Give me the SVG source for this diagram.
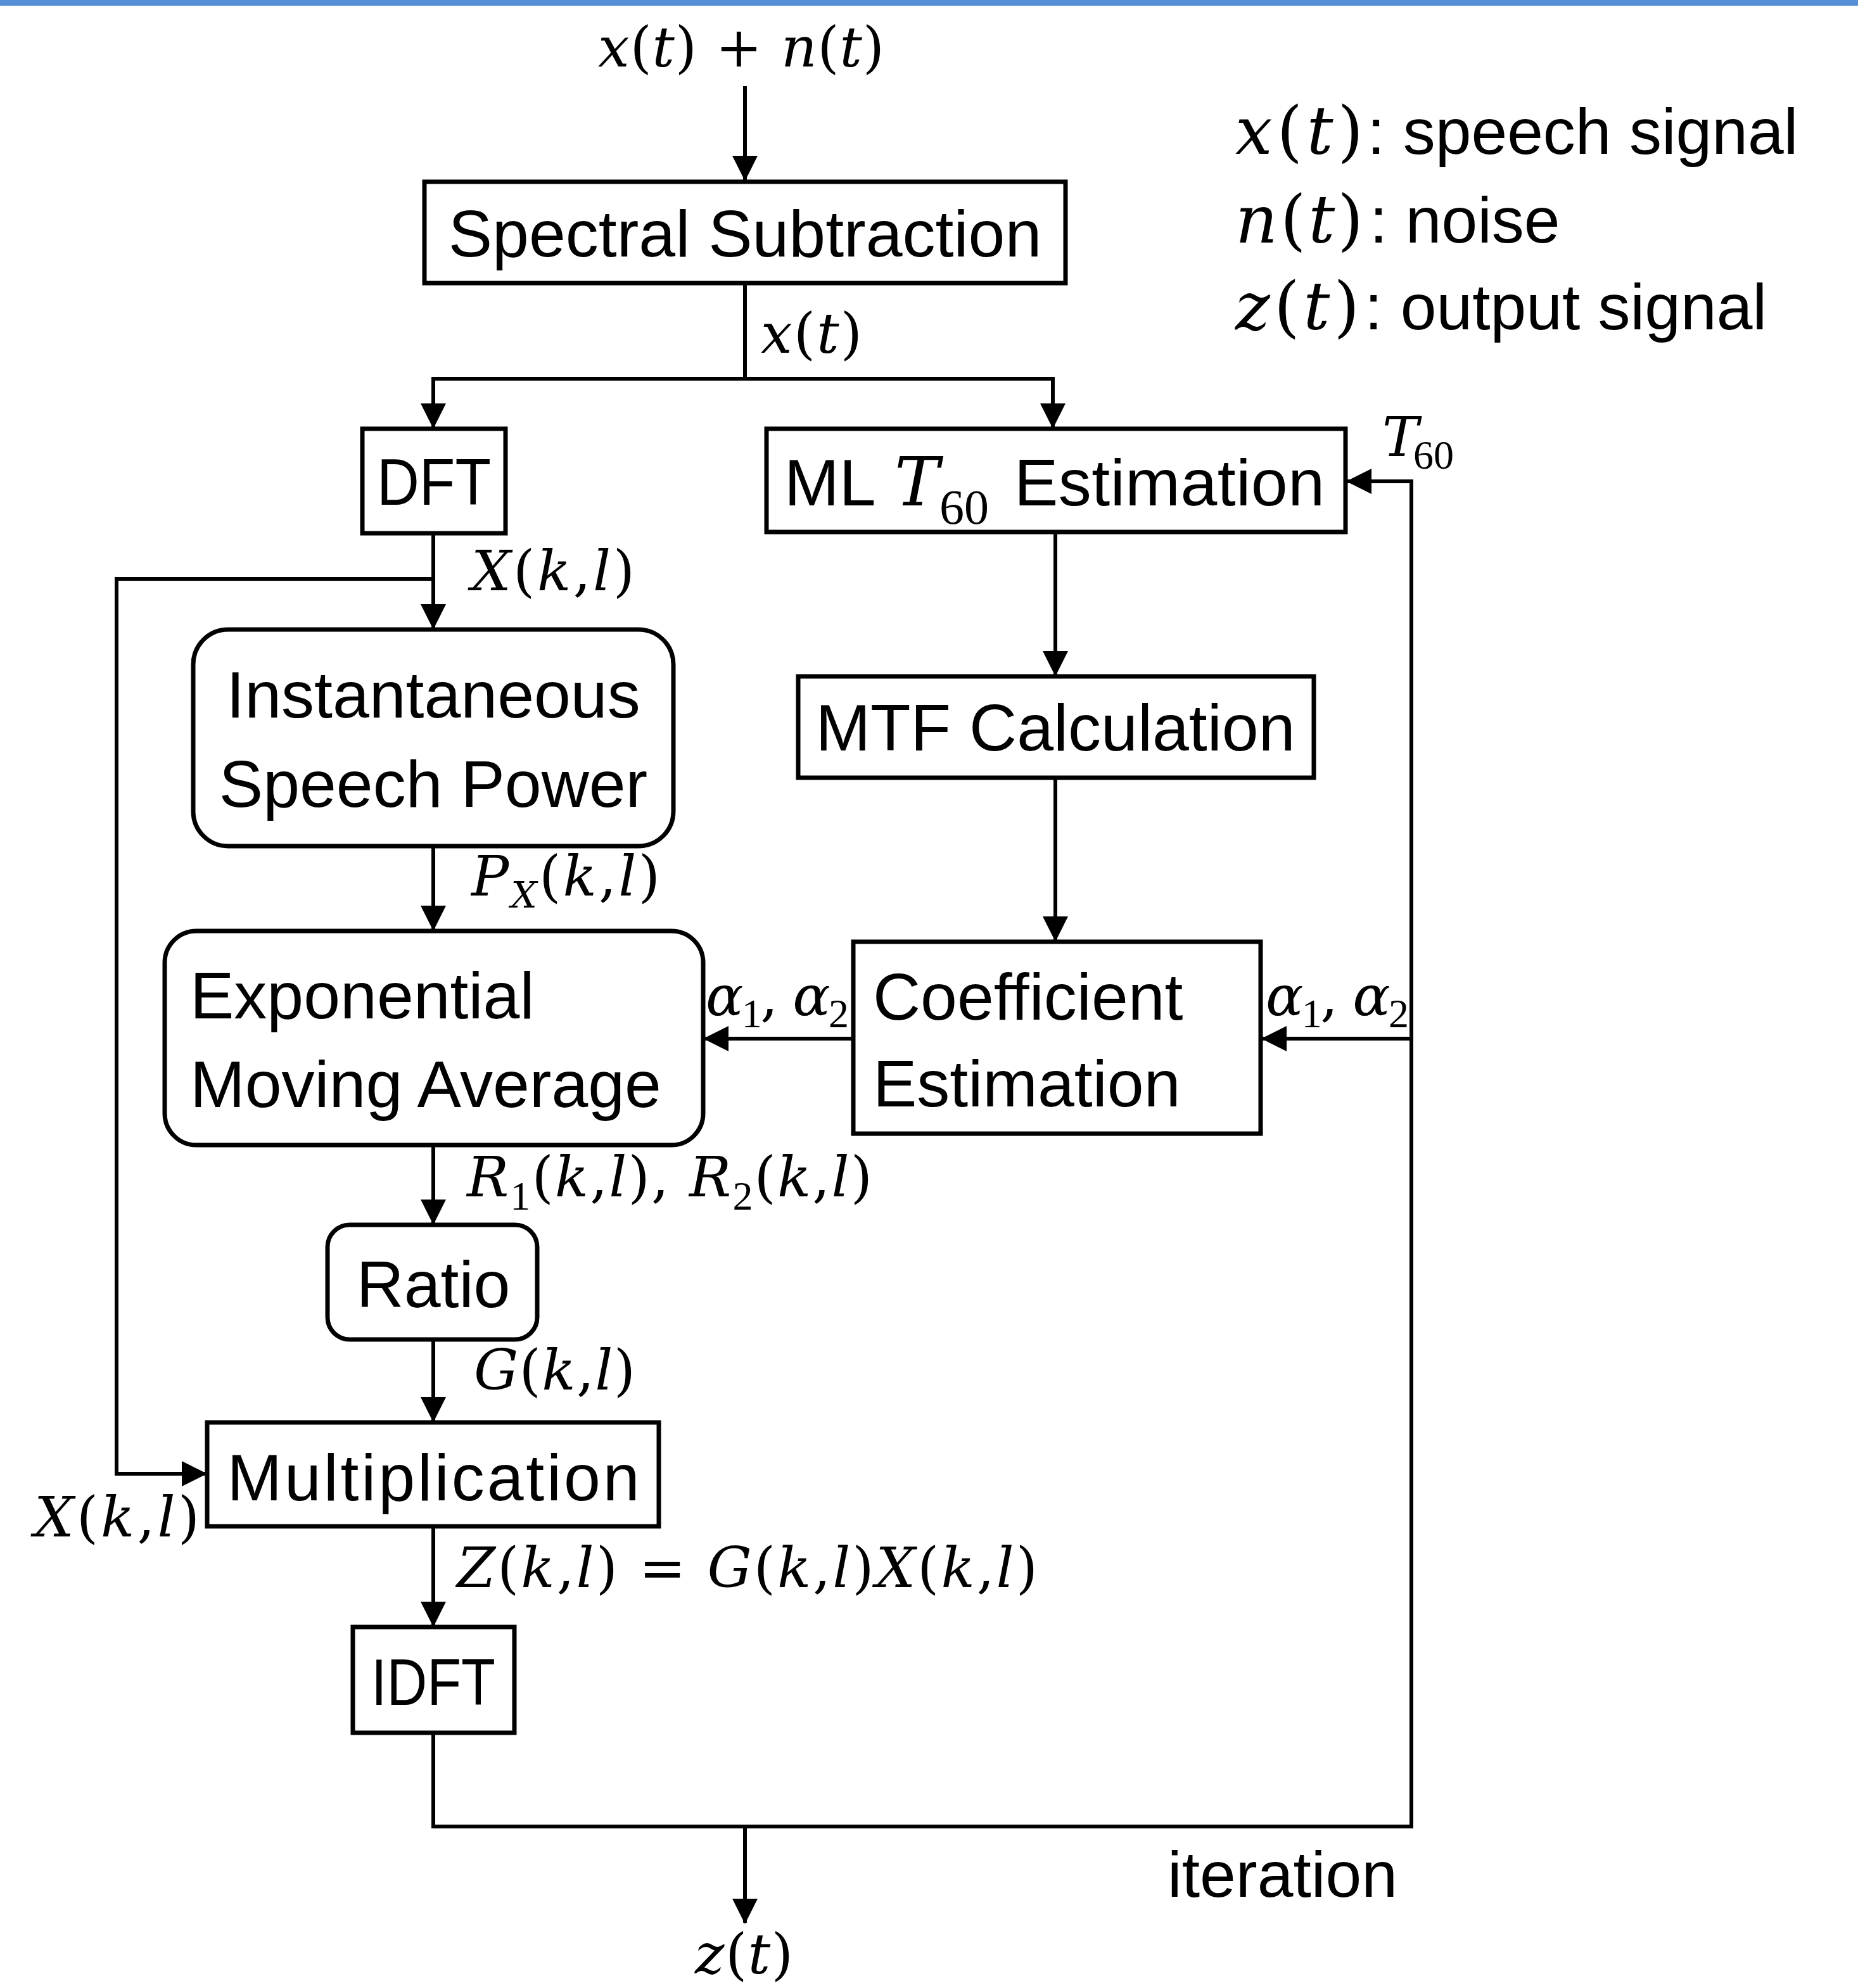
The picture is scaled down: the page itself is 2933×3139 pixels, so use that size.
<svg xmlns="http://www.w3.org/2000/svg" width="2933" height="3139" viewBox="0 0 2933 3139">
<style>
.box{fill:#fff;stroke:#000;stroke-width:7}
.t{font-family:"Liberation Sans","Noto Sans",sans-serif;font-size:104px;fill:#000}
.c{text-anchor:middle}
.lg{font-size:102px}
.m{font-family:"DejaVu Serif","Liberation Serif",serif;font-style:italic;font-size:88px;fill:#000}
.u{font-style:normal}
.s{font-family:"Liberation Serif","DejaVu Serif",serif;font-size:64px;font-style:normal}
.si{font-size:58px}
</style>
<defs>
<marker id="ah" markerUnits="userSpaceOnUse" markerWidth="40" markerHeight="40" viewBox="0 0 40 40" refX="38" refY="20" orient="auto">
<path d="M0,0 L40,20 L0,40 z" fill="#000"/>
</marker>
</defs>
<rect x="0" y="0" width="2933" height="9" fill="#558ED5"/>

<g id="connectors" fill="none" stroke="#000" stroke-width="6" marker-end="url(#ah)">
<path d="M1176,136 V284"/>
<path d="M1176,448 V598 H684 V675"/>
<path d="M1176,598 H1662 V675"/>
<path d="M684,843 V992"/>
<path d="M684,914 H184 V2327 H325"/>
<path d="M684,1336 V1468"/>
<path d="M684,1808 V1932"/>
<path d="M684,2116 V2244"/>
<path d="M684,2410 V2567"/>
<path d="M684,2736 V2884 H2228 V760 H2127"/>
<path d="M2228,1640 H1993"/>
<path d="M1176,2884 V3036"/>
<path d="M1666,843 V1066"/>
<path d="M1666,1228 V1485"/>
<path d="M1346,1640 H1112"/>
</g>

<g id="spectral-subtraction">
<rect class="box" x="670" y="287" width="1012" height="160"/>
<text class="t c" x="1176" y="405">Spectral Subtraction</text>
</g>
<g id="dft">
<rect class="box" x="572" y="677" width="226" height="165"/>
<text class="t c" x="685" y="797" textLength="180" lengthAdjust="spacingAndGlyphs">DFT</text>
</g>
<g id="ml-t60">
<rect class="box" x="1210" y="677" width="914" height="163"/>
<text class="t" x="1238" y="798">ML</text>
<text class="m" x="1412" y="798" style="font-size:106px">T</text>
<text class="s" x="1483" y="827" style="font-size:78px">60</text>
<text class="t" x="1601" y="798" textLength="490">Estimation</text>
</g>
<g id="isp">
<rect class="box" x="305" y="994" width="758" height="342" rx="55"/>
<text class="t c" x="684" y="1133">Instantaneous</text>
<text class="t c" x="684" y="1274">Speech Power</text>
</g>
<g id="mtf">
<rect class="box" x="1260" y="1068" width="814" height="160"/>
<text class="t c" x="1666" y="1185">MTF Calculation</text>
</g>
<g id="ema">
<rect class="box" x="260" y="1470" width="850" height="338" rx="50"/>
<text class="t" x="300" y="1608">Exponential</text>
<text class="t" x="300" y="1748">Moving Average</text>
</g>
<g id="coef">
<rect class="box" x="1347" y="1487" width="643" height="303"/>
<text class="t" x="1378" y="1610">Coefficient</text>
<text class="t" x="1378" y="1747">Estimation</text>
</g>
<g id="ratio">
<rect class="box" x="517" y="1934" width="331" height="181" rx="35"/>
<text class="t c" x="684" y="2064">Ratio</text>
</g>
<g id="mult">
<rect class="box" x="327" y="2246" width="713" height="164"/>
<text class="t c" x="684" y="2369" textLength="651">Multiplication</text>
</g>
<g id="idft">
<rect class="box" x="557" y="2569" width="255" height="167"/>
<text class="t c" x="684" y="2692" textLength="196" lengthAdjust="spacingAndGlyphs">IDFT</text>
</g>

<g id="labels">
<text class="m" x="944" y="105" textLength="452">x<tspan class="u">(</tspan>t<tspan class="u">) + </tspan>n<tspan class="u">(</tspan>t<tspan class="u">)</tspan></text>
<text class="m" x="1201" y="557" textLength="160">x<tspan class="u">(</tspan>t<tspan class="u">)</tspan></text>
<text class="m" x="2182" y="720" style="font-size:86px">T<tspan class="s" x="2231" dy="20" style="font-size:64px">60</tspan></text>
<text class="m" x="744" y="932" textLength="258">X<tspan class="u">(</tspan>k<tspan class="u">,</tspan>l<tspan class="u">)</tspan></text>
<text class="m" x="744" y="1414" textLength="298">P<tspan class="si" dy="19">X</tspan><tspan class="u" dy="-19">(</tspan>k<tspan class="u">,</tspan>l<tspan class="u">)</tspan></text>
<text class="m" x="1114" y="1603" textLength="226">α<tspan class="s" dy="19">1</tspan><tspan class="u" dy="-19">, </tspan>α<tspan class="s" dy="19">2</tspan></text>
<text class="m" x="1998" y="1603" textLength="226">α<tspan class="s" dy="19">1</tspan><tspan class="u" dy="-19">, </tspan>α<tspan class="s" dy="19">2</tspan></text>
<text class="m" x="737" y="1889" textLength="640">R<tspan class="s" dy="21">1</tspan><tspan class="u" dy="-21">(</tspan>k<tspan class="u">,</tspan>l<tspan class="u">), </tspan>R<tspan class="s" dy="21">2</tspan><tspan class="u" dy="-21">(</tspan>k<tspan class="u">,</tspan>l<tspan class="u">)</tspan></text>
<text class="m" x="748" y="2194" textLength="255">G<tspan class="u">(</tspan>k<tspan class="u">,</tspan>l<tspan class="u">)</tspan></text>
<text class="m" x="54" y="2426" textLength="261">X<tspan class="u">(</tspan>k<tspan class="u">,</tspan>l<tspan class="u">)</tspan></text>
<text class="m" x="721" y="2506" textLength="917">Z<tspan class="u">(</tspan>k<tspan class="u">,</tspan>l<tspan class="u">) = </tspan>G<tspan class="u">(</tspan>k<tspan class="u">,</tspan>l<tspan class="u">)</tspan>X<tspan class="u">(</tspan>k<tspan class="u">,</tspan>l<tspan class="u">)</tspan></text>
<text class="m" x="1097" y="3116" textLength="155">z<tspan class="u">(</tspan>t<tspan class="u">)</tspan></text>
<text class="t lg" x="1843" y="2995">iteration</text>
</g>

<g id="legend">
<text class="m" x="1950" y="243" style="font-size:104px" textLength="202">x<tspan class="u">(</tspan>t<tspan class="u">)</tspan></text>
<text class="t lg" x="2158" y="243">: speech signal</text>
<text class="m" x="1950" y="383" style="font-size:104px" textLength="202">n<tspan class="u">(</tspan>t<tspan class="u">)</tspan></text>
<text class="t lg" x="2162" y="383">: noise</text>
<text class="m" x="1950" y="520" style="font-size:104px" textLength="196">z<tspan class="u">(</tspan>t<tspan class="u">)</tspan></text>
<text class="t lg" x="2154" y="520">: output signal</text>
</g>
</svg>
